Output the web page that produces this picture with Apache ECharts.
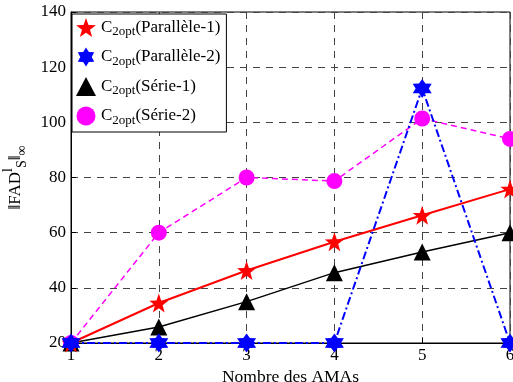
<!DOCTYPE html>
<html><head><meta charset="utf-8">
<script src="https://cdn.jsdelivr.net/npm/echarts@6/dist/echarts.min.js"></script>
<style>html,body{margin:0;padding:0;background:#fff}#c{width:513px;height:382px}</style>
</head><body><div id="c"></div>
<script>
const xValues = [1, 2, 3, 4, 5, 6];
const parallele1 = [20, 34.5, 46.3, 56.7, 66.3, 75.8];
const parallele2 = [20, 20, 20, 20, 112.3, 20];
const serie1 = [20, 25.8, 35, 45.5, 53, 60];
const serie2 = [20, 60, 80, 78.7, 101.4, 94];
const seriesNames = ['Parallèle-1', 'Parallèle-2', 'Série-1', 'Série-2'];
const xTitle = 'Nombre des AMAs';

function starPath(n, outer, inner) {
  let d = '';
  for (let i = 0; i < 2 * n; i++) {
    const r = i % 2 === 0 ? outer : inner;
    const a = -Math.PI / 2 + i * Math.PI / n;
    const x = 50 + r * Math.cos(a), y = 50 + r * Math.sin(a);
    d += (i === 0 ? 'M' : 'L') + x.toFixed(2) + ' ' + y.toFixed(2);
  }
  return 'path://' + d + 'Z';
}
const star5 = starPath(5, 50, 20);
const star6 = starPath(6, 50, 30);
const serif = 'Liberation Serif';

const pair = (arr) => xValues.map((x, i) => [x, arr[i]]);

const chart = echarts.init(document.getElementById('c'));
chart.setOption({
  animation: false,
  backgroundColor: '#fff',
  grid: { left: 71, right: 3, top: 12, bottom: 39, containLabel: false, outerBoundsMode: 'none',
    show: true, borderColor: '#000', borderWidth: 1, backgroundColor: 'transparent' },
  xAxis: {
    type: 'value', min: 1, max: 6, interval: 1,
    name: xTitle, nameLocation: 'middle', nameGap: 20,
    nameTextStyle: { fontFamily: serif, fontSize: 17.5, color: '#000' },
    axisLine: { show: true, lineStyle: { color: '#000' } },
    axisTick: { show: true, inside: true, length: 5, lineStyle: { color: '#000' } },
    axisLabel: { fontFamily: serif, fontSize: 17, color: '#000', margin: 4 },
    splitLine: { show: true, lineStyle: { color: '#444', type: [7, 6], width: 1 } }
  },
  yAxis: {
    type: 'value', min: 20, max: 140, interval: 20,
    name: '{n|‖FAD}{sup|l}{sub|S}{n|‖}{sub|∞}', nameLocation: 'middle', nameGap: 31,
    nameTextStyle: {
      color: '#000',
      rich: {
        n: { fontFamily: serif, fontSize: 17, lineHeight: 28, color: '#000' },
        sup: { fontFamily: serif, fontSize: 14, lineHeight: 14, verticalAlign: 'top', color: '#000' },
        sub: { fontFamily: serif, fontSize: 14, lineHeight: 14, verticalAlign: 'bottom', color: '#000' }
      }
    },
    axisLine: { show: true, lineStyle: { color: '#000' } },
    axisTick: { show: true, inside: true, length: 5, lineStyle: { color: '#000' } },
    axisLabel: { fontFamily: serif, fontSize: 17, color: '#000', margin: 5 },
    splitLine: { show: true, lineStyle: { color: '#444', type: [7, 6], width: 1 } }
  },
  legend: {
    orient: 'vertical', left: 72, top: 14,
    backgroundColor: '#fff', borderColor: '#000', borderWidth: 1,
    padding: [4, 6, 5, 4], itemGap: 9, itemWidth: 20, itemHeight: 19,
    data: [
      { name: seriesNames[0], icon: star5 },
      { name: seriesNames[1], icon: star6 },
      { name: seriesNames[2], icon: 'triangle' },
      { name: seriesNames[3], icon: 'circle' }
    ],
    formatter: (name) => '{c|C}{s|2opt}{c|(' + name + ')}',
    textStyle: {
      rich: {
        c: { fontFamily: serif, fontSize: 17, color: '#000', lineHeight: 22 },
        s: { fontFamily: serif, fontSize: 13, color: '#000', lineHeight: 12, verticalAlign: 'bottom' }
      }
    }
  },
  series: [
    { name: seriesNames[3], type: 'line', data: pair(serie2), symbol: 'circle', symbolSize: 16,
      itemStyle: { color: '#ff00ff' }, lineStyle: { color: '#ff00ff', width: 1.5, type: [6, 4] }, z: 2 },
    { name: seriesNames[2], type: 'line', data: pair(serie1), symbol: 'triangle', symbolSize: 17,
      itemStyle: { color: '#000' }, lineStyle: { color: '#000', width: 1.5 }, z: 3 },
    { name: seriesNames[0], type: 'line', data: pair(parallele1), symbol: star5, symbolSize: 19,
      itemStyle: { color: '#ff0000' }, lineStyle: { color: '#ff0000', width: 2 }, z: 4 },
    { name: seriesNames[1], type: 'line', data: pair(parallele2), symbol: star6, symbolSize: 19,
      itemStyle: { color: '#0000ff' }, lineStyle: { color: '#0000ff', width: 2, type: [8, 3, 2, 3] }, z: 5 }
  ]
});
</script></body></html>
